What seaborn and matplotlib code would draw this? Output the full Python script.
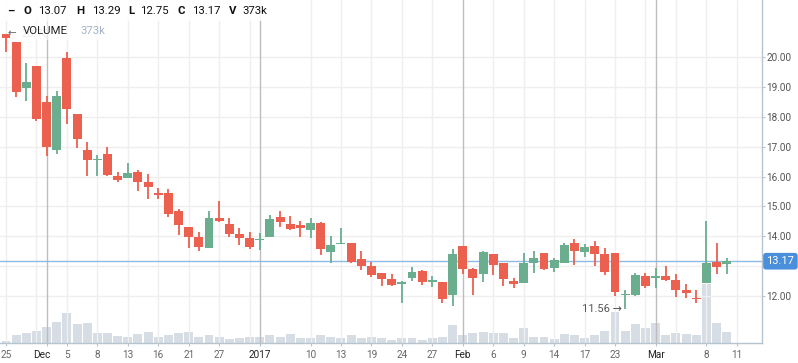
import matplotlib.pyplot as plt
import matplotlib.patches as mpatches
from matplotlib.transforms import ScaledTranslation
import numpy as np
import pandas as pd
import seaborn as sns


## Trading days shown (market holidays dropped)

holidays = ['2016-11-24', '2016-12-26', '2017-01-02', '2017-01-16', '2017-02-20']
dates = pd.bdate_range('2016-11-23', '2017-03-10').drop(pd.to_datetime(holidays))

opens = [20.38, 20.78, 20.51, 18.97, 19.70, 18.50, 16.89, 19.97, 18.09, 16.89,
         16.57, 16.76, 16.02, 15.96, 16.15, 15.83, 15.42, 15.45, 14.85, 14.31,
         13.98, 13.62, 14.62, 14.42, 14.08, 13.95, 13.89, 13.99, 14.65, 14.42,
         14.38, 14.23, 14.45, 13.49, 13.76, 13.78, 13.24, 13.01, 12.78, 12.58,
         12.42, 12.62, 12.84, 12.50, 12.47, 12.05, 13.68, 12.91, 12.75, 13.41,
         13.11, 12.52, 12.45, 13.12, 13.44, 12.95, 13.12, 13.78, 13.49, 13.68,
         13.41, 13.44, 12.05, 12.04, 12.68, 12.64, 12.68, 12.54, 12.21, 11.94,
         12.44, 13.14, 13.07]
highs = [20.62, 20.78, 20.51, 19.79, 19.70, 18.70, 18.86, 20.17, 18.09, 17.16,
         16.72, 16.99, 16.17, 16.47, 16.23, 16.10, 15.62, 15.59, 14.92, 14.31,
         14.15, 14.85, 15.18, 14.62, 14.28, 14.15, 14.11, 14.72, 14.85, 14.69,
         14.52, 14.62, 14.48, 14.01, 14.28, 13.78, 13.51, 13.16, 12.78, 12.74,
         12.52, 12.98, 12.88, 12.68, 12.47, 13.58, 13.68, 12.94, 13.51, 13.41,
         13.11, 12.62, 13.44, 13.51, 13.44, 13.28, 13.78, 13.91, 13.75, 13.85,
         13.61, 13.44, 12.21, 12.78, 12.78, 12.94, 13.01, 12.74, 12.41, 12.21,
         14.53, 13.78, 13.29]
lows = [20.30, 20.18, 18.67, 18.53, 17.86, 16.69, 16.76, 17.77, 16.97, 16.03,
        16.03, 16.03, 15.83, 15.96, 15.52, 15.26, 15.26, 14.65, 14.05, 13.62,
        13.51, 13.62, 14.48, 13.99, 13.72, 13.59, 13.54, 13.99, 14.33, 14.21,
        13.99, 13.96, 13.39, 13.12, 13.76, 13.12, 12.86, 12.65, 12.35, 12.35,
        11.78, 12.52, 12.39, 12.32, 11.78, 11.68, 12.75, 12.05, 12.49, 12.72,
        12.35, 12.28, 12.45, 12.79, 12.86, 12.82, 13.12, 13.05, 13.32, 13.02,
        12.72, 12.00, 11.56, 12.00, 12.27, 12.28, 12.51, 11.98, 11.94, 11.77,
        12.44, 12.75, 12.75]
closes = [20.60, 20.65, 18.84, 19.16, 17.94, 17.00, 18.70, 18.27, 17.27, 16.57,
          16.59, 16.07, 15.90, 16.12, 15.83, 15.65, 15.40, 14.76, 14.38, 13.98,
          13.66, 14.62, 14.52, 14.09, 13.96, 13.66, 13.91, 14.58, 14.47, 14.25,
          14.29, 14.45, 13.59, 13.71, 13.78, 13.16, 13.02, 12.72, 12.59, 12.38,
          12.47, 12.81, 12.49, 12.52, 11.92, 13.41, 12.92, 12.62, 13.48, 13.05,
          12.58, 12.42, 13.11, 13.28, 12.92, 13.21, 13.71, 13.52, 13.65, 13.42,
          12.82, 12.15, 12.07, 12.71, 12.34, 12.66, 12.54, 12.22, 12.12, 11.92,
          13.11, 12.98, 13.17]
volume_k = [340, 68, 272, 340, 408, 544, 714, 1020, 646, 680,
            340, 340, 238, 204, 306, 374, 204, 272, 340, 374,
            204, 272, 204, 136, 170, 204, 204, 272, 204, 306,
            170, 170, 272, 204, 170, 272, 170, 204, 170, 102,
            170, 170, 102, 170, 204, 612, 272, 340, 374, 340,
            340, 170, 510, 204, 204, 136, 306, 272, 170, 272,
            408, 1054, 408, 646, 510, 680, 272, 340, 306, 272,
            2006, 680, 373]

tick_dates = ['2016-11-25', '2016-12-01', '2016-12-05', '2016-12-08', '2016-12-13',
              '2016-12-16', '2016-12-21', '2016-12-27', '2017-01-03', '2017-01-10',
              '2017-01-13', '2017-01-19', '2017-01-24', '2017-01-27', '2017-02-01',
              '2017-02-06', '2017-02-09', '2017-02-14', '2017-02-17', '2017-02-23',
              '2017-03-01', '2017-03-08', '2017-03-13']
tick_labels = ['25', 'Dec', '5', '8', '13', '16', '21', '27', '2017', '10', '13', '19',
               '24', '27', 'Feb', '6', '9', '14', '17', '23', 'Mar', '8', '11']
month_labels = ['Dec', '2017', 'Feb', 'Mar']
extra_grid_dates = ['2016-11-30', '2016-12-30', '2017-02-28', '2017-03-03']
price_ticks = [12, 14, 15, 16, 17, 18, 19, 20]
grid_prices = [12, 13, 14, 15, 16, 17, 18, 19, 20]

RED = '#ec6050'
GREEN = '#6aad8f'
VOL = '#d6dde4'
SPINE = '#b6c4cf'
W, H = 798, 363


def day_pos(d):
    d = pd.Timestamp(d)
    return dates.get_loc(d) if d in dates else len(dates)


sns.set_style('white')
plt.rcParams['font.family'] = ['Roboto', 'DejaVu Sans']

fig = plt.figure(figsize=(W / 100, H / 100), dpi=100)
ax = fig.add_axes([0, 20 / H, 762 / W, 343 / H])
vol = ax.twinx()
vol.set_zorder(0)
ax.set_zorder(1)
ax.patch.set_visible(False)

x = np.arange(len(dates))

## Volume bars underneath
sns.barplot(x=x, y=volume_k, native_scale=True, ax=vol, color=VOL,
            saturation=1, width=0.88, errorbar=None, linewidth=0)
vol.set_ylim(0, 11660)
vol.set_yticks([])
vol.set_ylabel('')
vol.set_xlabel('')
for s in vol.spines.values():
    s.set_visible(False)

## Grid
for v in grid_prices:
    ax.axhline(v, color='#efefef', lw=1, zorder=0.5)
for d, lab in zip(tick_dates, tick_labels):
    col = '#bdbdbd' if lab in month_labels else '#efefef'
    ax.axvline(day_pos(d), color=col, lw=1, zorder=0.6 if lab in month_labels else 0.5)
for d in extra_grid_dates:
    ax.axvline(day_pos(d), color='#efefef', lw=1, zorder=0.5)

## Candles
o, h, l, c = map(np.array, (opens, highs, lows, closes))
colors = np.where(c >= o, GREEN, RED)
body = np.abs(c - o)
body_h = np.maximum(body, 0.05)
ax.vlines(x, l, h, colors=colors, lw=1.3, zorder=3)
ax.bar(x, body_h, bottom=np.minimum(o, c) - (body_h - body) / 2, width=0.88,
       color=colors, linewidth=0, zorder=4)

## Last price line
ax.axhline(c[-1], color='#8dbbe8', lw=1, zorder=2)
ax.annotate(f'{c[-1]:.2f}', xy=(1, c[-1]), xycoords=('axes fraction', 'data'),
            xytext=(4.5, 0), textcoords='offset pixels', ha='left', va='center',
            color='white', fontsize=8, annotation_clip=False, zorder=10,
            bbox=dict(boxstyle='round,pad=0.3,rounding_size=0.25', fc='#4a8fdb', ec='none'))

## High / low markers
hi = int(np.argmax(h))
ax.annotate('←', xy=(hi, h[hi]), xytext=(2, 0), textcoords='offset pixels',
            ha='left', va='center', color='#666666', fontsize=7.5, zorder=6)
ax.annotate(f'{h[hi]:.2f}', xy=(hi, h[hi]), xytext=(15, 0), textcoords='offset pixels',
            ha='left', va='center', color='#d0d0d0', fontsize=8, zorder=6)
lo = int(np.argmin(l))
ax.annotate(f'{l[lo]:.2f} →', xy=(lo, l[lo]), xytext=(-3, 0), textcoords='offset pixels',
            ha='right', va='center', color='#555555', fontsize=8, zorder=6)

## Axes styling
ax.set_xlim(0.41, 75.48)
ax.set_ylim(10.435, 21.906)
ax.yaxis.tick_right()
ax.set_yticks(price_ticks, [f'{v:.2f}' for v in price_ticks])
ax.tick_params(axis='y', right=True, left=False, length=2.5, width=0.8, color=SPINE,
               labelsize=7.2, labelcolor='#555555', pad=0.6, direction='out')
ax.set_xticks([day_pos(d) for d in tick_dates], tick_labels)
ax.tick_params(axis='x', bottom=True, length=2, width=0.8, color=SPINE,
               labelsize=7.2, pad=3, direction='out')
for lab in ax.get_xticklabels():
    if lab.get_text() in month_labels:
        lab.set_color('#222222')
    else:
        lab.set_color('#666666')
    if lab.get_text() == 'Dec':
        lab.set_transform(lab.get_transform() + ScaledTranslation(-0.05, 0, fig.dpi_scale_trans))
for name, s in ax.spines.items():
    s.set_visible(name in ('right', 'bottom'))
    s.set_color(SPINE)
    s.set_linewidth(1)

## Header legend
fig.add_artist(mpatches.Rectangle((0, 1 - 21 / H), 270 / W, 21 / H, transform=fig.transFigure,
                                  fc='white', ec='none', alpha=0.88, zorder=5))
fig.add_artist(mpatches.Rectangle((20 / W, 1 - 40 / H), 92 / W, 19 / H, transform=fig.transFigure,
                                  fc='white', ec='none', alpha=0.6, zorder=5))


def head(px, py, s, **kw):
    fig.text(px / W, 1 - py / H, s, ha='left', va='center', fontsize=8.2, zorder=7, **kw)


head(7, 11, '–', color='#111111', fontweight='bold')
for px, s, bold in [(23, 'O', True), (38, f'{o[-1]:.2f}', False),
                    (76, 'H', True), (92, f'{h[-1]:.2f}', False),
                    (128, 'L', True), (140, f'{l[-1]:.2f}', False),
                    (177, 'C', True), (192, f'{c[-1]:.2f}', False),
                    (229, 'V', True), (242, f'{volume_k[-1]}k', False)]:
    head(px, 11, s, color='#111111', fontweight='bold' if bold else 'normal')
head(23, 30.5, 'VOLUME', color='#222222')
head(80, 30.5, f'{volume_k[-1]}k', color='#a3b4c4')

fig.savefig('out.png', dpi=100)
